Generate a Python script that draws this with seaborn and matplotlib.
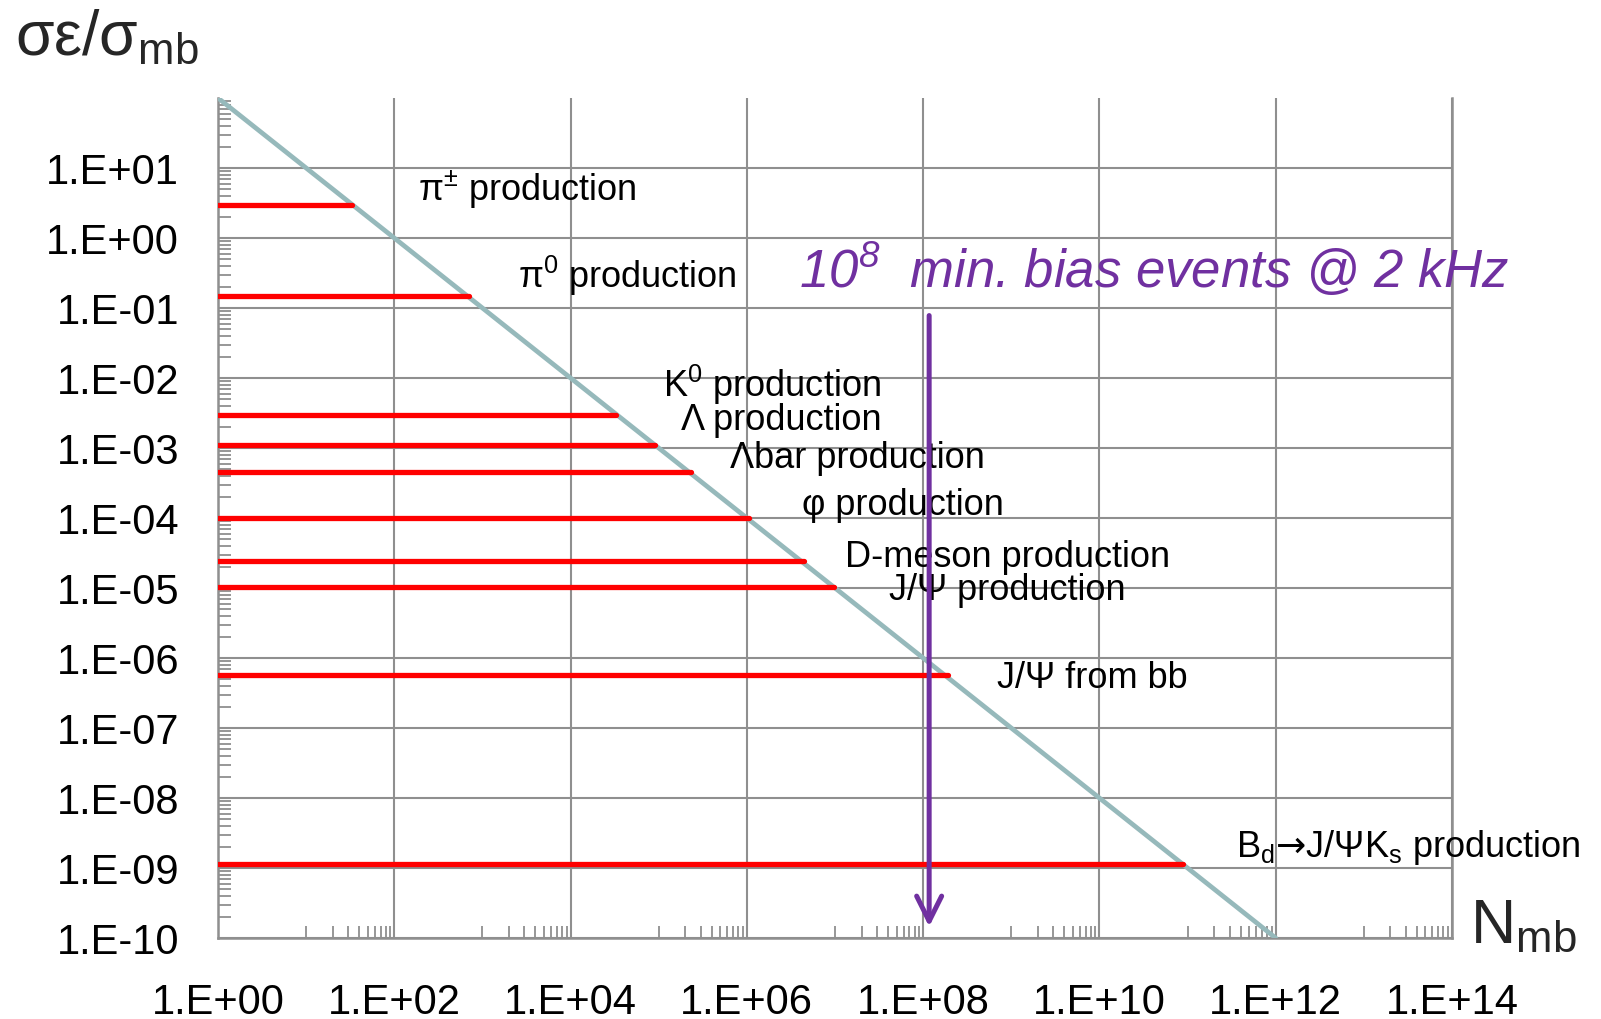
import matplotlib
matplotlib.use("Agg")
import matplotlib.pyplot as plt
from matplotlib.ticker import FixedLocator, FixedFormatter, NullFormatter
import numpy as np
import pandas as pd
import seaborn as sns

# ---- data -----------------------------------------------------------------
processes = [
    "pi_pm", "pi0", "K0", "Lambda", "Lambdabar", "phi",
    "D-meson", "J/Psi", "J/Psi from bb", "Bd->J/Psi Ks",
]
# rate per minimum-bias event (sigma*eps / sigma_mb)
rate = [3.0, 0.15, 3.0e-3, 1.1e-3, 4.5e-4, 1.0e-4, 2.4e-5, 1.05e-5, 5.7e-7, 1.15e-9]
# number of minimum-bias events at which each bar ends
reach = [33, 700, 3.3e4, 9.0e4, 2.3e5, 1.05e6, 4.4e6, 9.8e6, 1.9e8, 8.8e10]

labels = [
    r"$\mathregular{π^{±}}$ production",
    r"$\mathregular{π^{0}}$ production",
    r"$\mathregular{K^{0}}$ production",
    "Λ production",
    "Λbar production",
    "φ production",
    "D-meson production",
    "J/Ψ production",
    "J/Ψ from bb",
    r"$\mathregular{B_{d}}\mathsf{→}\mathregular{J/ΨK_{s}}$ production",
]

# reference line: one signal event reached (rate = 100 / N)
diag_N = [1.0, 1.0e12]
diag_rate = [1.0e2, 1.0e-10]

# 10^8 min. bias events marker
mb_events = 1.17e8
arrow_top = 7.8e-2
arrow_bottom = 1.45e-10

x_ticks = [1e0, 1e2, 1e4, 1e6, 1e8, 1e10, 1e12, 1e14]
x_tick_labels = ["1.E+00", "1.E+02", "1.E+04", "1.E+06", "1.E+08",
                 "1.E+10", "1.E+12", "1.E+14"]
y_ticks = [1e-10, 1e-9, 1e-8, 1e-7, 1e-6, 1e-5, 1e-4, 1e-3, 1e-2, 1e-1, 1e0, 1e1]
y_tick_labels = ["1.E-10", "1.E-09", "1.E-08", "1.E-07", "1.E-06", "1.E-05",
                 "1.E-04", "1.E-03", "1.E-02", "1.E-01", "1.E+00", "1.E+01"]

# label anchor points (left edge, baseline) in data coordinates (log10)
label_pos = [
    (2.27, 0.547), (3.405, -0.696), (5.047, -2.253), (5.255, -2.729),
    (5.804, -3.276), (6.625, -3.943), (7.117, -4.681), (7.608, -5.157),
    (8.839, -6.41), (11.544, -8.824),
]

# ---- style ----------------------------------------------------------------
sns.set_theme(style="white")
plt.rcParams["font.family"] = ["Liberation Sans", "DejaVu Sans"]
plt.rcParams["mathtext.fontset"] = "custom"
plt.rcParams["mathtext.rm"] = "Liberation Sans"
plt.rcParams["mathtext.it"] = "Liberation Sans:italic"
plt.rcParams["mathtext.bf"] = "Liberation Sans:bold"
plt.rcParams["mathtext.sf"] = "DejaVu Sans"
plt.rcParams["mathtext.fallback"] = "stixsans"

GRID = "#8f8f8f"
PURPLE = "#7030a0"
DIAG = "#96b9bb"

fig = plt.figure(figsize=(16.01, 10.20), dpi=100)
ax = fig.add_axes([218 / 1601, 1 - 939 / 1020, (1452 - 218) / 1601, (939 - 99) / 1020])
ax.set(xscale="log", yscale="log")

# bars as horizontal segments from N = 1 to the reach point
seg = pd.DataFrame({
    "process": np.repeat(processes, 2),
    "N": np.ravel(np.column_stack([np.ones(len(reach)), reach])),
    "rate": np.repeat(rate, 2),
})

sns.lineplot(x=diag_N, y=diag_rate, ax=ax, color=DIAG, lw=3.4,
             estimator=None, sort=False, zorder=3)
sns.lineplot(data=seg, x="N", y="rate", units="process", estimator=None,
             sort=False, color="#ff0000", lw=3.8, solid_capstyle="round",
             legend=False, ax=ax, zorder=4)

ax.annotate("", xy=(mb_events, arrow_bottom), xytext=(mb_events, arrow_top),
            arrowprops=dict(arrowstyle="->,head_length=0.9,head_width=0.45",
                            lw=3.6, color=PURPLE, mutation_scale=20,
                            shrinkA=0, shrinkB=0),
            zorder=6)

for text, (lx, ly) in zip(labels, label_pos):
    ax.text(10 ** lx, 10 ** ly, text, fontsize=26, ha="left", va="baseline",
            color="black", zorder=5)

ax.text(10 ** 6.595, 10 ** -0.70, r"$\mathregular{10^{8}}$  min. bias events @ 2 kHz",
        fontsize=38, style="italic", color=PURPLE, ha="left", va="baseline",
        zorder=5)

# ---- axes -----------------------------------------------------------------
ax.set_xlim(1, 1e14)
ax.set_ylim(1e-10, 1e2)

ax.xaxis.set_major_locator(FixedLocator(x_ticks))
ax.xaxis.set_major_formatter(FixedFormatter(x_tick_labels))
ax.yaxis.set_major_locator(FixedLocator(y_ticks))
ax.yaxis.set_major_formatter(FixedFormatter(y_tick_labels))

x_minor = [k * 10.0 ** (2 * d + 1) for d in range(7) for k in range(1, 10)]
y_minor = [k * 10.0 ** d for d in range(-10, 2) for k in range(2, 10)]
ax.xaxis.set_minor_locator(FixedLocator(x_minor))
ax.yaxis.set_minor_locator(FixedLocator(y_minor))
ax.xaxis.set_minor_formatter(NullFormatter())
ax.yaxis.set_minor_formatter(NullFormatter())

ax.tick_params(axis="both", which="major", length=0, labelsize=30,
               labelcolor="black", bottom=True, left=True)
ax.tick_params(axis="x", which="major", pad=32)
ax.tick_params(axis="y", which="major", pad=28)
ax.tick_params(axis="both", which="minor", direction="in", length=9,
               width=1.3, color=GRID, bottom=True, left=True,
               top=False, right=False)

ax.grid(True, which="major", color=GRID, lw=1.5)
ax.set_axisbelow(True)
for side in ["left", "bottom", "right"]:
    ax.spines[side].set_color(GRID)
    ax.spines[side].set_linewidth(1.8)
ax.spines["top"].set_visible(False)
ax.set_xlabel("")
ax.set_ylabel("")

fig.text(15 / 1601, 1 - 55 / 1020, r"$\mathregular{σε/σ_{mb}}$", fontsize=45,
         ha="left", va="baseline")
fig.text(1470 / 1601, 1 - 943 / 1020, r"$\mathregular{N_{mb}}$", fontsize=45,
         ha="left", va="baseline")

fig.savefig("out.png", dpi=100)
